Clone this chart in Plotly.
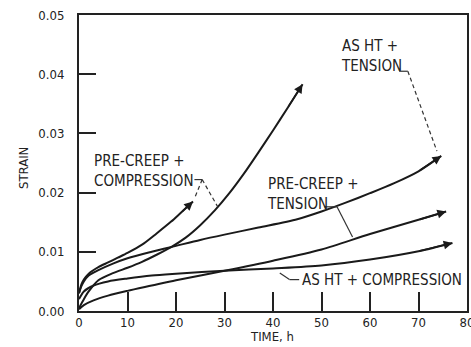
import plotly.graph_objects as go

# ---- data (time in h, strain) ----
pc_comp_a_t = [0, 0.5, 1, 2, 4, 6, 8, 10, 13, 16, 19, 21, 23.5]
pc_comp_a_s = [0.003, 0.0045, 0.0053, 0.0063, 0.0074, 0.0082, 0.0090, 0.0098, 0.0112, 0.0131, 0.0151, 0.0166, 0.0185]

pc_comp_b_t = [0, 1, 2, 4, 7, 10, 13, 16, 19, 22, 25, 28, 31, 34, 37, 40, 43, 46.1]
pc_comp_b_s = [0.0005, 0.002, 0.0033, 0.0052, 0.0064, 0.0073, 0.0083, 0.0095, 0.0108, 0.0124, 0.0145, 0.0170, 0.0199, 0.0232, 0.0268, 0.0305, 0.0343, 0.0383]

asht_tens_t = [0, 0.5, 1, 2, 4, 7, 10, 15, 20, 25, 30, 37, 45, 50, 55, 60, 65, 70, 74.7]
asht_tens_s = [0.003, 0.0042, 0.0050, 0.0060, 0.0069, 0.0080, 0.0089, 0.0100, 0.0110, 0.0120, 0.0129, 0.0141, 0.0155, 0.0168, 0.0183, 0.0199, 0.0216, 0.0236, 0.0262]

pc_tens_t = [0, 1, 3, 6, 10, 15, 20, 30, 40, 50, 60, 70, 75.7]
pc_tens_s = [0.0003, 0.0010, 0.0018, 0.0026, 0.0034, 0.0043, 0.0052, 0.0068, 0.0085, 0.0104, 0.0130, 0.0154, 0.0168]

asht_comp_t = [0, 1, 3, 6, 10, 15, 20, 30, 40, 50, 60, 70, 77]
asht_comp_s = [0.002, 0.0033, 0.0043, 0.0050, 0.0055, 0.0060, 0.0063, 0.0068, 0.0072, 0.0077, 0.0087, 0.0101, 0.0115]

x_ticks = [0, 10, 20, 30, 40, 50, 60, 70, 80]
y_ticks = [0.00, 0.01, 0.02, 0.03, 0.04, 0.05]
y_tick_text = ["0.00", "0.01", "0.02", "0.03", "0.04", "0.05"]

FONT = "DejaVu Sans Condensed"

series = [
    (pc_comp_a_t, pc_comp_a_s),
    (pc_comp_b_t, pc_comp_b_s),
    (asht_tens_t, asht_tens_s),
    (pc_tens_t, pc_tens_s),
    (asht_comp_t, asht_comp_s),
]

fig = go.Figure()
annotations = []
for t, s in series:
    fig.add_trace(go.Scatter(x=t, y=s, mode="lines",
                             line=dict(color="#1a1a1a", width=2, shape="spline", smoothing=0.8),
                             showlegend=False, hoverinfo="skip"))
    annotations.append(dict(x=t[-1], y=s[-1], ax=t[-2], ay=s[-2], xref="x", yref="y",
                            axref="x", ayref="y", text="", showarrow=True,
                            arrowhead=2, arrowsize=1.1, arrowwidth=1.6, arrowcolor="#1a1a1a",
                            standoff=0, startstandoff=0))

label_font = dict(family=FONT, size=15, color="#222")
annotations += [
    dict(x=2.7, y=0.0237, xref="x", yref="y", text="PRE-CREEP +<br>COMPRESSION",
         showarrow=False, xanchor="left", yanchor="middle", align="left", font=label_font),
    dict(x=53.7, y=0.0430, xref="x", yref="y", text="AS HT +<br>TENSION",
         showarrow=False, xanchor="left", yanchor="middle", align="left", font=label_font),
    dict(x=38.3, y=0.0198, xref="x", yref="y", text="PRE-CREEP +<br>TENSION",
         showarrow=False, xanchor="left", yanchor="middle", align="left", font=label_font),
    dict(x=45.6, y=0.0052, xref="x", yref="y", text="AS HT + COMPRESSION",
         showarrow=False, xanchor="left", yanchor="middle", align="left", font=label_font),
    # axis titles
    dict(x=0, y=0.483, xref="paper", yref="paper", xshift=-56, text="STRAIN", textangle=-90,
         showarrow=False, xanchor="center", yanchor="middle", font=dict(family=FONT, size=13, color="#222")),
    dict(x=0.497, y=0, xref="paper", yref="paper", yshift=-25, text="TIME, h",
         showarrow=False, xanchor="center", yanchor="middle", font=dict(family=FONT, size=13, color="#222")),
]

line_style = dict(color="#333", width=1.2)
dash_style = dict(color="#333", width=1.2, dash="4px,3px")
shapes = [
    # pre-creep + compression leaders
    dict(type="line", x0=23.8, y0=0.0222, x1=25.4, y1=0.0222, xref="x", yref="y", line=line_style),
    dict(type="line", x0=25.4, y0=0.0222, x1=23.8, y1=0.0190, xref="x", yref="y", line=dash_style),
    dict(type="line", x0=25.4, y0=0.0222, x1=28.6, y1=0.0176, xref="x", yref="y", line=dash_style),
    # as ht + tension leader
    dict(type="line", x0=66.0, y0=0.0405, x1=67.8, y1=0.0405, xref="x", yref="y", line=line_style),
    dict(type="line", x0=67.8, y0=0.0405, x1=73.8, y1=0.0270, xref="x", yref="y", line=dash_style),
    # pre-creep + tension leader
    dict(type="line", x0=50.6, y0=0.0176, x1=53.2, y1=0.0176, xref="x", yref="y", line=line_style),
    dict(type="line", x0=53.2, y0=0.0176, x1=56.4, y1=0.0125, xref="x", yref="y", line=line_style),
    # as ht + compression leader
    dict(type="line", x0=41.4, y0=0.0064, x1=43.4, y1=0.0053, xref="x", yref="y", line=line_style),
    dict(type="line", x0=43.4, y0=0.0053, x1=45.4, y1=0.0053, xref="x", yref="y", line=line_style),
]

fig.update_layout(
    width=471, height=347,
    margin=dict(l=79, r=4, t=15, b=36),
    paper_bgcolor="white", plot_bgcolor="white",
    font=dict(family=FONT, size=13, color="#222"),
    annotations=annotations, shapes=shapes,
    xaxis=dict(range=[0, 80], tickvals=x_ticks, ticks="inside", ticklen=19, tickwidth=1.5,
               tickcolor="#222", showline=True, linecolor="#222", linewidth=2, mirror=True,
               showgrid=False, zeroline=False, tickfont=dict(size=13), automargin=False,
               ticklabelstandoff=-2, ticklabeloverflow="allow"),
    yaxis=dict(range=[0, 0.05], tickvals=y_ticks, ticktext=y_tick_text, ticks="inside",
               ticklen=17, tickwidth=1.5, tickcolor="#222", showline=True, linecolor="#222",
               linewidth=2, mirror=True, showgrid=False, zeroline=False,
               ticklabelstandoff=10, tickfont=dict(size=13), automargin=False),
)

fig.write_html("out.html", config={"displayModeBar": False},
               post_script="document.body.style.margin='0';document.body.style.padding='0';"
                           "document.body.style.overflow='hidden';")
